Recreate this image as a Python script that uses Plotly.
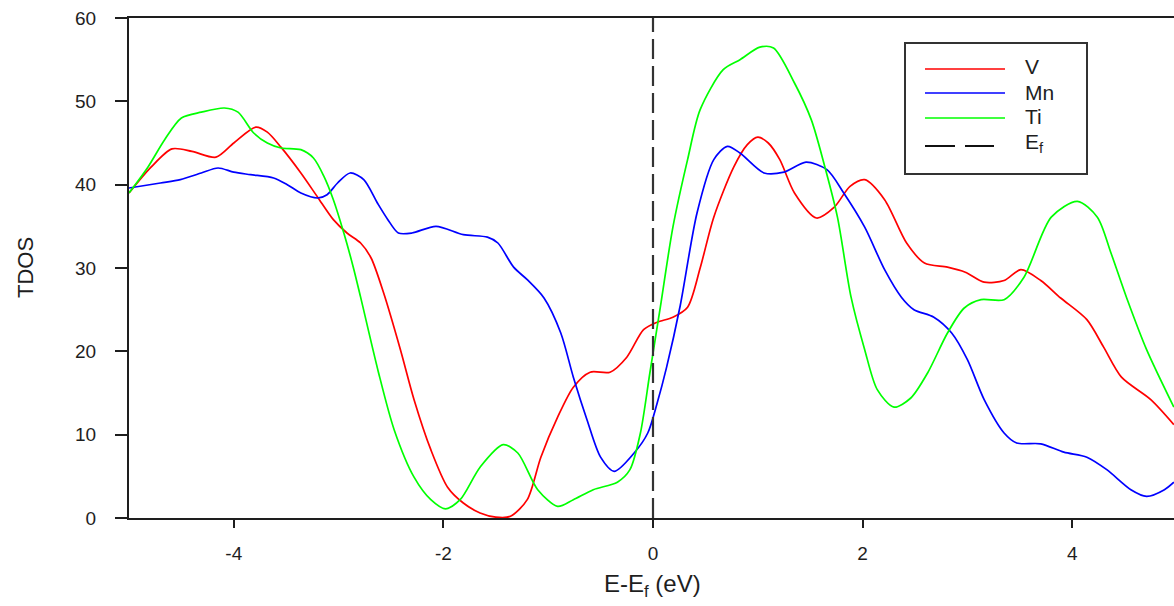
import plotly.graph_objects as go

# Total density of states around the Fermi level (energies in eV)
v_energy = [-5.0, -4.79, -4.59, -4.40, -4.17, -4.00, -3.79, -3.68, -3.55, -3.36, -3.20, -3.05,
            -2.92, -2.79, -2.69, -2.57, -2.41, -2.28, -2.12, -1.96, -1.81, -1.65, -1.50, -1.36,
            -1.20, -1.07, -0.91, -0.76, -0.60, -0.41, -0.25, -0.09, 0.04, 0.19, 0.33, 0.45,
            0.58, 0.77, 0.90, 1.00, 1.10, 1.21, 1.35, 1.56, 1.73, 1.88, 2.02, 2.21, 2.42, 2.59,
            2.81, 2.98, 3.16, 3.35, 3.51, 3.70, 3.89, 4.14, 4.30, 4.47, 4.75, 4.97]
v_tdos = [39.0, 42.1, 44.3, 44.0, 43.3, 45.0, 46.9, 46.3, 44.5, 41.4, 38.5, 35.8,
          34.2, 33.0, 31.2, 27.0, 20.2, 14.2, 8.2, 3.7, 1.8, 0.6, 0.1, 0.2,
          2.2, 7.3, 12.1, 15.7, 17.5, 17.5, 19.3, 22.6, 23.5, 24.1, 25.3, 30.0,
          36.1, 42.1, 44.8, 45.7, 45.0, 43.0, 39.0, 36.0, 37.3, 39.8, 40.6, 38.2, 33.0, 30.6,
          30.1, 29.5, 28.3, 28.5, 29.8, 28.5, 26.4, 23.8, 20.5, 16.9, 14.2, 11.2]

mn_energy = [-5.0, -4.70, -4.51, -4.31, -4.15, -4.00, -3.84, -3.62, -3.49, -3.36, -3.20, -3.11,
             -3.01, -2.89, -2.76, -2.63, -2.53, -2.43, -2.30, -2.07, -1.81, -1.58, -1.48, -1.33,
             -1.20, -1.04, -0.88, -0.76, -0.63, -0.50, -0.37, -0.18, -0.05, 0.04, 0.13, 0.26,
             0.42, 0.58, 0.71, 0.83, 1.06, 1.25, 1.46, 1.66, 1.82, 2.02, 2.21, 2.37, 2.49, 2.68,
             2.85, 3.00, 3.16, 3.35, 3.47, 3.70, 3.92, 4.14, 4.33, 4.56, 4.71, 4.88, 4.97]
mn_tdos = [39.6, 40.2, 40.6, 41.4, 42.0, 41.5, 41.2, 40.8, 40.0, 39.0, 38.4, 38.8,
           40.2, 41.4, 40.6, 37.8, 35.8, 34.2, 34.2, 35.0, 34.0, 33.7, 33.0, 30.1,
           28.6, 26.4, 22.2, 16.9, 11.8, 7.3, 5.6, 7.8, 10.2, 13.8, 18.1, 25.5,
           36.6, 43.0, 44.6, 43.8, 41.4, 41.5, 42.7, 41.8, 39.0, 34.9, 29.8, 26.5, 25.0, 24.1,
           22.2, 19.0, 14.2, 10.2, 9.0, 8.9, 7.9, 7.3, 5.8, 3.4, 2.6, 3.4, 4.3]

ti_energy = [-5.0, -4.82, -4.66, -4.50, -4.31, -4.09, -3.96, -3.81, -3.68, -3.55, -3.36, -3.24,
             -3.14, -3.05, -2.95, -2.86, -2.79, -2.62, -2.47, -2.28, -2.12, -1.98, -1.84, -1.65,
             -1.43, -1.29, -1.10, -0.91, -0.76, -0.57, -0.34, -0.22, -0.12, -0.03, 0.07, 0.19,
             0.33, 0.45, 0.67, 0.83, 1.02, 1.15, 1.35, 1.51, 1.63, 1.76, 1.89, 2.02, 2.14, 2.30,
             2.46, 2.62, 2.81, 2.97, 3.13, 3.35, 3.54, 3.80, 4.05, 4.24, 4.37, 4.52, 4.71, 4.97]
ti_tdos = [39.0, 42.1, 45.4, 48.0, 48.7, 49.2, 48.7, 46.2, 45.0, 44.4, 44.2, 43.2,
           41.0, 38.2, 34.2, 30.1, 26.5, 17.5, 10.6, 4.9, 2.2, 1.1, 2.2, 6.1,
           8.8, 7.8, 3.4, 1.4, 2.2, 3.4, 4.3, 5.8, 10.2, 17.4, 25.3, 34.9,
           43.0, 49.0, 53.8, 55.0, 56.5, 56.4, 52.2, 47.8, 42.6, 36.1, 26.5, 20.2, 15.4, 13.3,
           14.4, 17.4, 22.2, 25.2, 26.2, 26.2, 28.9, 36.1, 38.0, 36.1, 31.8, 26.4, 20.2, 13.3]

fermi_level = 0.0
y_limits = [0, 60]
x_ticks = [-4, -2, 0, 2, 4]
x_tick_labels = ["-4", "-2", "0", "2", "4"]
y_ticks = [0, 10, 20, 30, 40, 50, 60]
series_names = ["V", "Mn", "Ti"]
series_colors = ["#ff0000", "#0000ff", "#00ff00"]

FONT = "Arial, Liberation Sans, sans-serif"
INK = "#1e1e1e"

fig = go.Figure()
for name, xs, ys, col in zip(series_names,
                             [v_energy, mn_energy, ti_energy],
                             [v_tdos, mn_tdos, ti_tdos],
                             series_colors):
    fig.add_trace(go.Scatter(x=xs, y=ys, mode="lines", name=name,
                             line=dict(color=col, width=1.7, shape="spline", smoothing=0.8)))

fig.add_trace(go.Scatter(x=[fermi_level, fermi_level], y=y_limits, mode="lines",
                         name="E<sub>f</sub>",
                         line=dict(color="#333333", width=2.2, dash="20px,7px")))

# pixel helpers for the hand-built legend (plot area: 129..1174 x, 18..518 y)
L, R_FULL, T, B = 129, 1174, 18, 518
def px_x(p):
    return (p - L) / (R_FULL - L)
def px_y(p):
    return (B - p) / (B - T)

shapes = [dict(type="rect", xref="paper", yref="paper",
               x0=px_x(905), x1=px_x(1087), y0=px_y(174), y1=px_y(43),
               line=dict(color="#333333", width=2), fillcolor="white", layer="above")]
annotations = []
legend_rows = [(69, 66.5, "V", series_colors[0], None, 1005),
               (93, 92.5, "Mn", series_colors[1], None, 1005),
               (118, 117, "Ti", series_colors[2], None, 1005),
               (146, 143, "E<sub>f</sub>", "#111111", "30px,10px", 994)]
for ly, ty, label, col, dash, xend in legend_rows:
    ln = dict(color=col, width=1.6)
    if dash:
        ln["dash"] = dash
        ln["width"] = 2
    shapes.append(dict(type="line", xref="paper", yref="paper",
                       x0=px_x(925), x1=px_x(xend), y0=px_y(ly), y1=px_y(ly),
                       line=ln, layer="above"))
    annotations.append(dict(text=label, xref="paper", yref="paper",
                            x=px_x(1023), y=px_y(ty), xanchor="left", yanchor="middle",
                            showarrow=False, font=dict(family=FONT, size=21, color=INK)))

annotations.append(dict(text="TDOS", xref="paper", yref="paper", x=px_x(25), y=px_y(268),
                        xanchor="center", yanchor="middle", textangle=-90, showarrow=False,
                        font=dict(family=FONT, size=22, color=INK)))
annotations.append(dict(text="E-E<sub>f</sub> (eV)", xref="paper", yref="paper",
                        x=px_x(652), y=px_y(585), xanchor="center", yanchor="middle",
                        showarrow=False, font=dict(family=FONT, size=24, color=INK)))

fig.update_layout(
    width=1174, height=606,
    margin=dict(l=L, r=0, t=T, b=606 - B),
    paper_bgcolor="white", plot_bgcolor="white",
    showlegend=False,
    shapes=shapes, annotations=annotations,
    xaxis=dict(range=[-5, -5 + (R_FULL - L) / 104.8], tickvals=x_ticks, ticktext=x_tick_labels,
               ticks="outside", ticklen=8, tickwidth=2, tickcolor=INK,
               showline=True, linecolor=INK, linewidth=2, mirror=True,
               showgrid=False, zeroline=False, ticklabelstandoff=9,
               tickfont=dict(family=FONT, size=19, color=INK)),
    yaxis=dict(range=y_limits, tickvals=y_ticks,
               ticks="outside", ticklen=12, tickwidth=2, tickcolor=INK,
               showline=True, linecolor=INK, linewidth=2,
               showgrid=False, zeroline=False, ticklabelstandoff=15,
               tickfont=dict(family=FONT, size=19, color=INK)),
)

fig.write_html("out.html")
